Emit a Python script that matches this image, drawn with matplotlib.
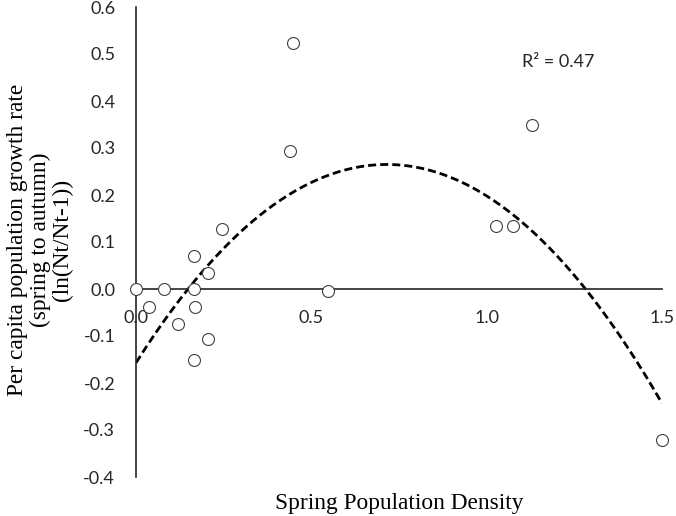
import numpy as np
import matplotlib
matplotlib.use("Agg")
import matplotlib.pyplot as plt

# Data
density = [0.0, 0.037, 0.08, 0.121, 0.165, 0.165, 0.168, 0.165, 0.206, 0.206,
           0.246, 0.548, 0.447, 0.438, 1.028, 1.075, 1.128, 1.499]
growth = [0.0, -0.039, 0.0, -0.075, 0.071, 0.0, -0.038, -0.152, 0.035, -0.106,
          0.128, -0.004, 0.524, 0.294, 0.134, 0.134, 0.348, -0.321]

# polynomial (order 2) trend line coefficients
trend_coef = [-0.825, 1.18, -0.157]

x_ticks = [0.0, 0.5, 1.0, 1.5]
x_tick_labels = ["0.0", "0.5", "1.0", "1.5"]
y_ticks = [-0.4, -0.3, -0.2, -0.1, 0.0, 0.1, 0.2, 0.3, 0.4, 0.5, 0.6]
y_tick_labels = ["-0.4", "-0.3", "-0.2", "-0.1", "0.0", "0.1", "0.2", "0.3", "0.4", "0.5", "0.6"]
r2_text = "R² = 0.47"

fig = plt.figure(figsize=(6.76, 5.16), dpi=100)
ax = fig.add_axes([136/676, 1-477/516, (662-136)/676, (477-7)/516])

xs = np.linspace(0, 1.5, 300)
ax.plot(xs, np.polyval(trend_coef, xs), color="black", lw=2.0, dashes=(2.9, 1.45), zorder=2)

ax.plot(density, growth, linestyle="none", marker="o", markersize=8.6,
        markerfacecolor="white", markeredgecolor="#404040", markeredgewidth=0.8,
        zorder=3, clip_on=False)

ax.set_xlim(0, 1.5)
ax.set_ylim(-0.4, 0.6)
ax.spines["right"].set_visible(False)
ax.spines["top"].set_visible(False)
ax.spines["bottom"].set_position(("data", 0))
ax.spines["left"].set_position(("data", 0))
for s in ("bottom", "left"):
    ax.spines[s].set_color("#262626")
    ax.spines[s].set_linewidth(1.2)

ax.set_xticks(x_ticks)
ax.set_xticklabels(x_tick_labels)
ax.set_yticks(y_ticks)
ax.set_yticklabels(y_tick_labels)
ax.tick_params(axis="both", length=0, labelsize=13, labelcolor="#262626")
ax.tick_params(axis="x", pad=15)
ax.tick_params(axis="y", pad=15)
for lab in ax.get_xticklabels() + ax.get_yticklabels():
    lab.set_family(["Lato", "DejaVu Sans"])

ax.text(1.10, 0.483, r2_text, fontsize=13, family=["Lato", "DejaVu Sans"],
        color="#262626", va="center", ha="left")

fig.text(399/676, 1-509/516, "Spring Population Density", ha="center", va="baseline",
         fontsize=16.8, family="Liberation Serif")
fig.text(40/676, 1-240/516,
         "Per capita population growth rate\n(spring to autumn)\n(ln(Nt/Nt-1))",
         ha="center", va="center", rotation=90, fontsize=16.8, family="Liberation Serif",
         linespacing=1.1)

fig.savefig("out.png", dpi=100)
